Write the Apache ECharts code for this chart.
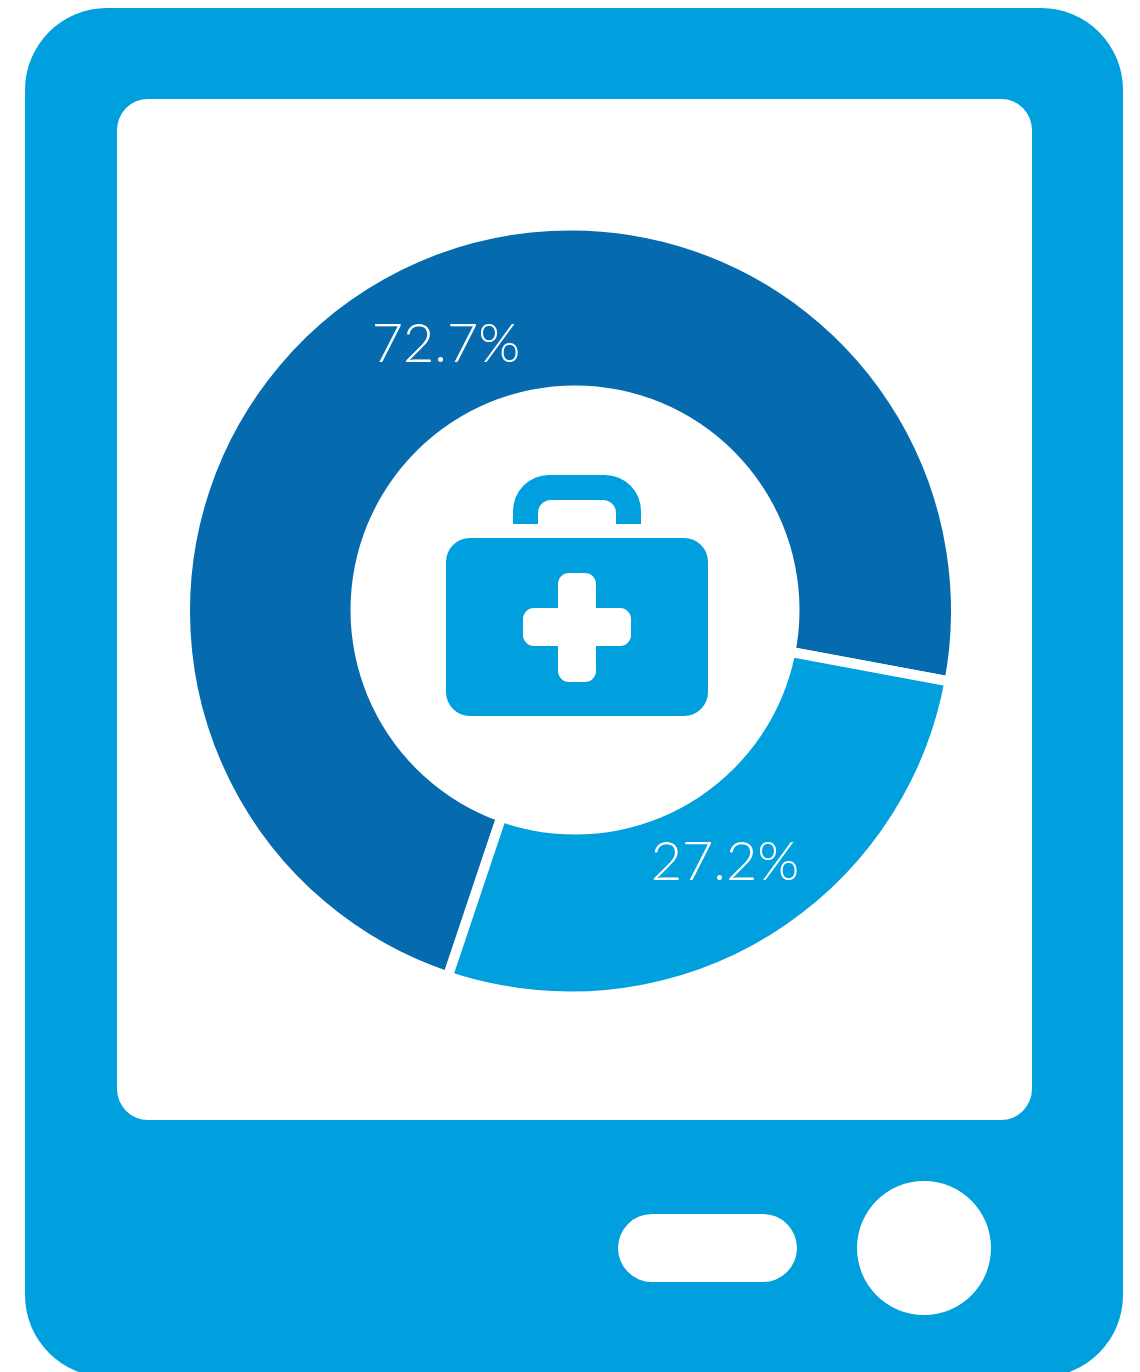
<!DOCTYPE html>
<html>
<head>
<meta charset="utf-8">
<style>html,body{margin:0;padding:0;background:#fff}#c{width:1140px;height:1372px}</style>
<script src="https://cdn.jsdelivr.net/npm/echarts@6/dist/echarts.min.js"></script>
</head>
<body>
<div id="c"></div>
<script>
const categories = ['Group A', 'Group B'];
const values = [72.7, 27.2];
const sliceColors = ['#056AAE', '#009FDE'];
const labelPositions = [[446, 345], [725, 863]];

const BLUE = '#009FDE';
const rect = (x, y, w, h, r, fill, z) => ({
  type: 'rect', z: z,
  shape: { x: x, y: y, width: w, height: h, r: r },
  style: { fill: fill }
});

const chart = echarts.init(document.getElementById('c'), null, { renderer: 'canvas' });
chart.setOption({
  animation: false,
  backgroundColor: '#fff',
  graphic: { elements: [
    rect(25, 8, 1098, 1369, 82, BLUE, 0),
    rect(117, 99, 915, 1021, 31, '#fff', 1),
    rect(618, 1214, 179, 68, 34, '#fff', 1),
    { type: 'circle', z: 1, shape: { cx: 924, cy: 1248, r: 67 }, style: { fill: '#fff' } },
    { type: 'circle', z: 10, shape: { cx: 575, cy: 610, r: 224.5 }, style: { fill: '#fff' } },
    rect(446, 538, 262, 178, 24, BLUE, 11),
    rect(513, 475, 128, 49, [36, 36, 0, 0], BLUE, 11),
    rect(538, 500, 78, 24, [13, 13, 0, 0], '#fff', 12),
    rect(558, 573, 38, 109, 11, '#fff', 12),
    rect(523, 608, 108, 38, 11, '#fff', 12)
  ] },
  series: [{
    type: 'pie',
    z: 5,
    center: [570.5, 611],
    radius: [190, 385.5],
    startAngle: 251.45,
    clockwise: true,
    silent: true,
    itemStyle: { borderColor: '#fff', borderWidth: 10 },
    label: {
      show: true,
      position: 'inside',
      formatter: p => p.value + '%',
      color: '#fff',
      fontFamily: 'Lato',
      fontWeight: 300,
      fontSize: 54
    },
    labelLine: { show: false },
    labelLayout: p => ({
      x: labelPositions[p.dataIndex][0],
      y: labelPositions[p.dataIndex][1],
      align: 'center',
      verticalAlign: 'middle'
    }),
    data: categories.map((name, i) => ({
      name: name,
      value: values[i],
      itemStyle: { color: sliceColors[i] }
    }))
  }]
});
</script>
</body>
</html>
